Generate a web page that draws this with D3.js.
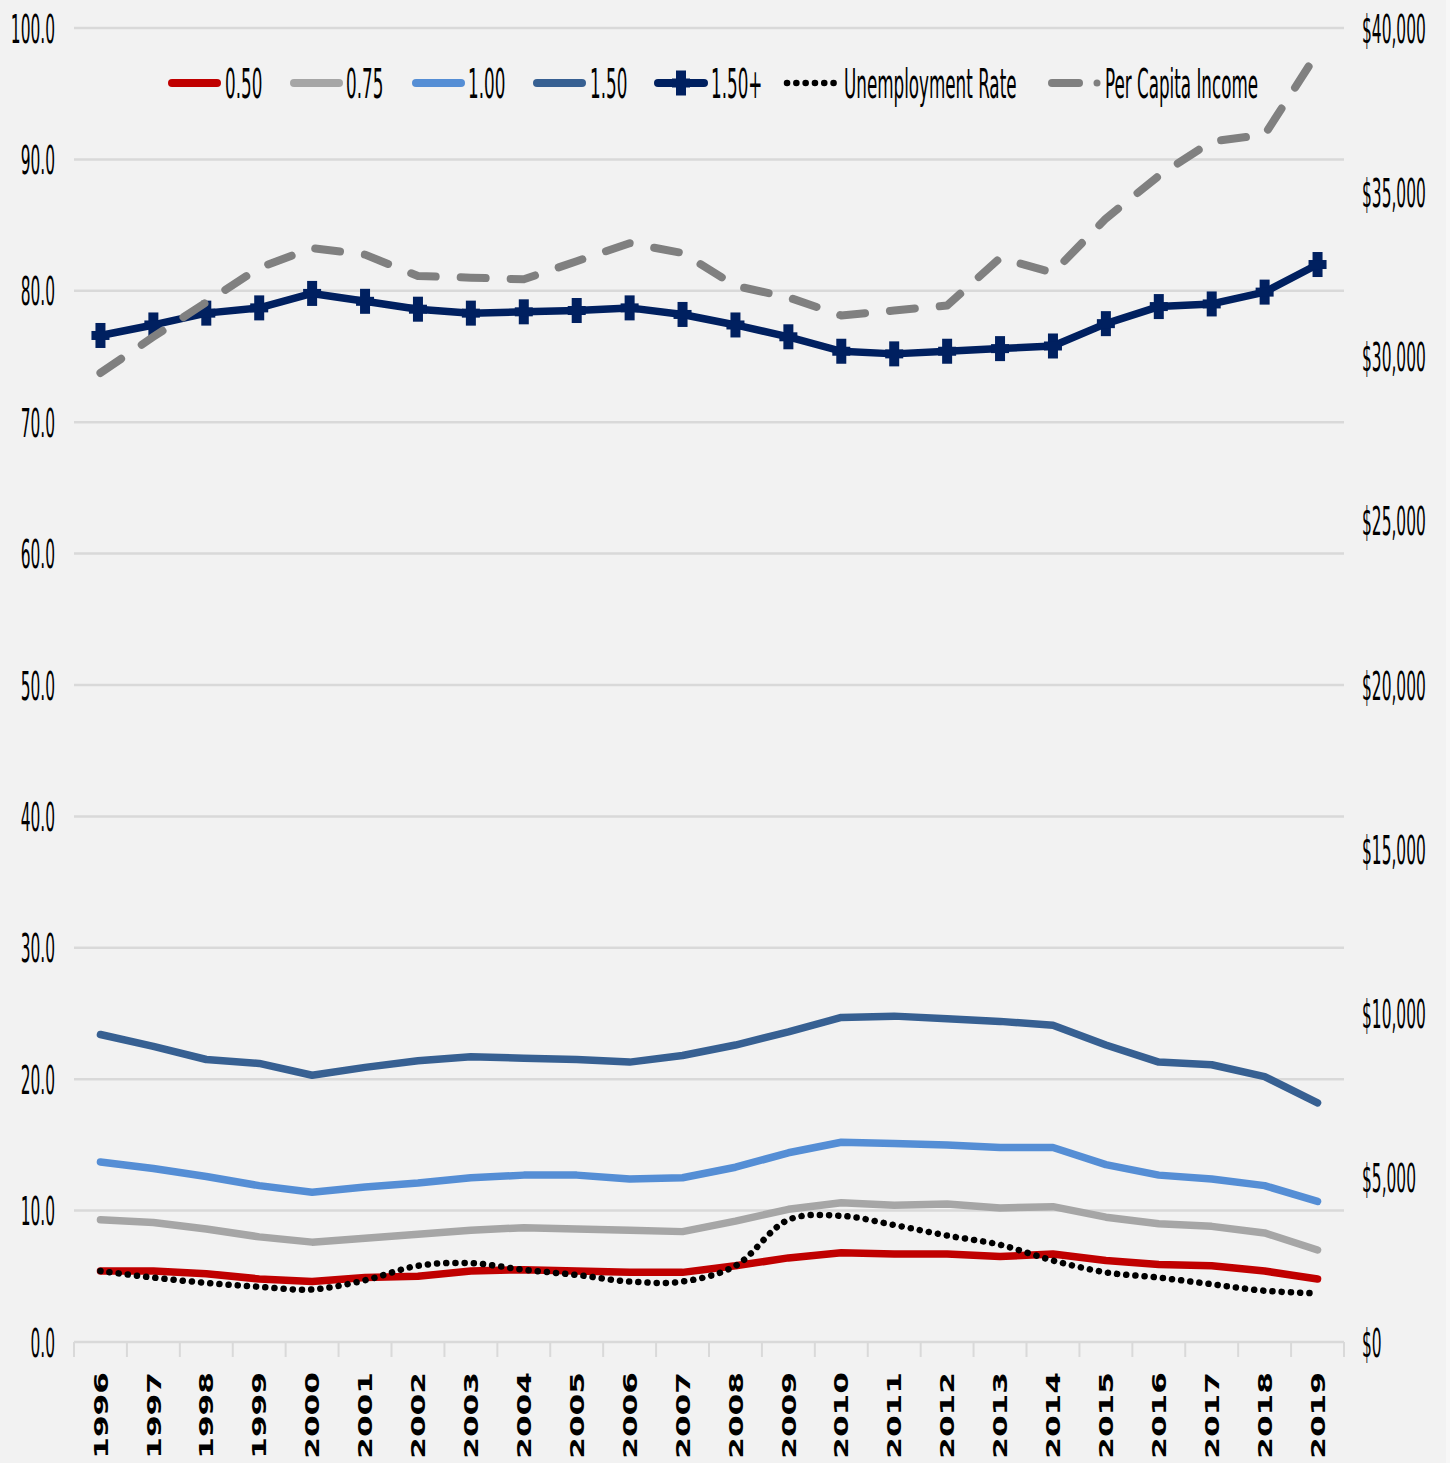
<!DOCTYPE html>
<html><head><meta charset="utf-8">
<script src="https://cdn.jsdelivr.net/npm/d3@7"></script>
<style>html,body{margin:0;padding:0;background:#F2F2F2;} svg{display:block}</style>
</head><body><svg id="c" width="1450" height="1463"></svg>
<script>
const years = ["1996","1997","1998","1999","2000","2001","2002","2003","2004","2005","2006","2007","2008","2009","2010","2011","2012","2013","2014","2015","2016","2017","2018","2019"];
const s050 = [5.4,5.4,5.2,4.8,4.6,4.9,5.0,5.4,5.5,5.4,5.3,5.3,5.8,6.4,6.8,6.7,6.7,6.5,6.7,6.2,5.9,5.8,5.4,4.8];
const s075 = [9.3,9.1,8.6,8.0,7.6,7.9,8.2,8.5,8.7,8.6,8.5,8.4,9.2,10.1,10.6,10.4,10.5,10.2,10.3,9.5,9.0,8.8,8.3,7.0];
const s100 = [13.7,13.2,12.6,11.9,11.4,11.8,12.1,12.5,12.7,12.7,12.4,12.5,13.3,14.4,15.2,15.1,15.0,14.8,14.8,13.5,12.7,12.4,11.9,10.7];
const s150 = [23.4,22.5,21.5,21.2,20.3,20.9,21.4,21.7,21.6,21.5,21.3,21.8,22.6,23.6,24.7,24.8,24.6,24.4,24.1,22.6,21.3,21.1,20.2,18.2];
const s150plus = [76.6,77.4,78.3,78.7,79.8,79.2,78.6,78.3,78.4,78.5,78.7,78.2,77.4,76.5,75.4,75.2,75.4,75.6,75.8,77.5,78.8,79.0,79.9,82.0];
const unemployment = [5.4,4.9,4.5,4.2,4.0,4.7,5.8,6.0,5.5,5.1,4.6,4.6,5.8,9.3,9.6,8.9,8.1,7.4,6.2,5.3,4.9,4.4,3.9,3.7];
const perCapita = [29500,30600,31650,32700,33300,33100,32450,32400,32350,32900,33450,33150,32150,31800,31250,31400,31550,33000,32550,34200,35500,36550,36750,39250];
const leftTicks = [0,10,20,30,40,50,60,70,80,90,100];
const rightTicks = [0,5000,10000,15000,20000,25000,30000,35000,40000];
const seriesNames = ["0.50","0.75","1.00","1.50","1.50+","Unemployment Rate","Per Capita Income"];

const FONT = "'DejaVu Sans Condensed','Liberation Sans Narrow','Arial Narrow',sans-serif";
const svg = d3.select("#c");
svg.append("rect").attr("width",1450).attr("height",1463).attr("fill","#F2F2F2");
svg.append("rect").attr("x",1446).attr("width",4).attr("height",1463).attr("fill","#F7F7F7");

const x = d3.scaleBand().domain(years).range([74,1344]);
const yL = d3.scaleLinear().domain([0,100]).range([1342,28]);
const yR = d3.scaleLinear().domain([0,40000]).range([1342,28]);
const cx = d => x(d) + x.bandwidth()/2;

// gridlines
svg.append("g").selectAll("line").data(leftTicks).join("line")
  .attr("x1",x.range()[0]).attr("x2",x.range()[1])
  .attr("y1",d=>yL(d)).attr("y2",d=>yL(d))
  .attr("stroke","#D9D9D9").attr("stroke-width",2.5);
// x tick marks at band boundaries
const bounds = years.map(y=>x(y)).concat([x.range()[1]]);
svg.append("g").selectAll("line").data(bounds).join("line")
  .attr("x1",d=>d).attr("x2",d=>d).attr("y1",yL(0)).attr("y2",yL(0)+15)
  .attr("stroke","#D9D9D9").attr("stroke-width",2);

// left axis
const gl = svg.append("g").attr("transform","translate(55,0)")
  .call(d3.axisLeft(yL).tickValues(leftTicks).tickFormat(d3.format(".1f")).tickSize(0).tickPadding(0));
gl.select(".domain").remove();
gl.selectAll("text").attr("x",0).attr("dy","0.36em").attr("transform","scale(0.78,1.78)")
  .attr("font-family",FONT).attr("font-size",22).attr("fill","#000");

// right axis
const gr = svg.append("g").attr("transform","translate(1362,0)")
  .call(d3.axisRight(yR).tickValues(rightTicks).tickFormat(d=>"$"+d3.format(",")(d)).tickSize(0).tickPadding(0));
gr.select(".domain").remove();
gr.selectAll("text").attr("x",0).attr("dy","0.36em").attr("transform","scale(0.78,1.78)")
  .attr("font-family",FONT).attr("font-size",22).attr("fill","#000");

// bottom axis
const gb = svg.append("g").attr("transform",`translate(0,${yL(0)})`)
  .call(d3.axisBottom(x).tickSize(0).tickPadding(0));
gb.select(".domain").remove();
gb.selectAll("text").attr("y",null).attr("x",0).attr("dy","0.36em")
  .attr("text-anchor","end")
  .attr("transform","translate(0,30) rotate(-90) scale(1.56,1)")
  .attr("font-family","'DejaVu Sans',Verdana,sans-serif").attr("font-weight","bold")
  .attr("font-size",20).attr("fill","#000");

// series
const lineL = d3.line().x((d,i)=>cx(years[i])).y(d=>yL(d));
const lineLsmooth = d3.line().x((d,i)=>cx(years[i])).y(d=>yL(d)).curve(d3.curveCatmullRom.alpha(0.5));
const lineR = d3.line().x((d,i)=>cx(years[i])).y(d=>yR(d));
const plot = svg.append("g").attr("fill","none").attr("stroke-linecap","round").attr("stroke-linejoin","round");

const colored = [[s050,"#C00000"],[s075,"#A6A6A6"],[s100,"#558ED5"],[s150,"#376092"]];
colored.forEach(([data,col])=>{
  plot.append("path").attr("d",lineL(data)).attr("stroke",col).attr("stroke-width",7.5);
});
plot.append("path").attr("d",lineL(s150plus)).attr("stroke","#002060").attr("stroke-width",7.5);
function plus(g, px, py){
  g.append("rect").attr("x",px-5).attr("y",py-12.5).attr("width",10).attr("height",25).attr("fill","#002060").attr("stroke","none");
  g.append("rect").attr("x",px-9).attr("y",py-4.5).attr("width",18).attr("height",9).attr("fill","#002060").attr("stroke","none");
}
const mk = svg.append("g");
s150plus.forEach((v,i)=>plus(mk, cx(years[i]), yL(v)));
svg.append("path").attr("d",lineLsmooth(unemployment)).attr("fill","none")
  .attr("stroke","#000").attr("stroke-width",6.5).attr("stroke-linecap","round")
  .attr("stroke-dasharray","0.1 9.1");
svg.append("path").attr("d",lineR(perCapita)).attr("fill","none")
  .attr("stroke","#808080").attr("stroke-width",8).attr("stroke-linecap","round").attr("stroke-linejoin","round")
  .attr("stroke-dasharray","25 25");

// legend
const lg = svg.append("g");
const ly = 83;
const leg = [
  {x1:172,x2:217,tx:225,col:"#C00000"},
  {x1:294,x2:339,tx:346,col:"#A6A6A6"},
  {x1:416,x2:461,tx:468,col:"#558ED5"},
  {x1:537,x2:582,tx:590,col:"#376092"},
  {x1:658,x2:704,tx:711,col:"#002060",marker:true},
  {x1:787,x2:834,tx:844,col:"#000",dots:true},
  {x1:1052,x2:1079,tx:1105,col:"#808080",dash:true}
];
leg.forEach((L,i)=>{
  const ln = lg.append("line").attr("x1",L.x1).attr("x2",L.x2).attr("y1",ly).attr("y2",ly)
    .attr("stroke",L.col).attr("stroke-linecap","round");
  if(L.dots){ ln.attr("stroke-width",6.5).attr("stroke-dasharray","0.1 9.2"); }
  else if(L.dash){ ln.attr("stroke-width",8);
    lg.append("circle").attr("cx",1097).attr("cy",ly).attr("r",3.5).attr("fill",L.col); }
  else { ln.attr("stroke-width",8); }
  if(L.marker) plus(lg,(L.x1+L.x2)/2,ly);
  lg.append("text").attr("transform",`translate(${L.tx},${ly}) scale(0.81,1.78)`).attr("dy","0.36em")
    .attr("font-family",FONT).attr("font-size",23).attr("fill","#000").text(seriesNames[i]);
});
</script></body></html>
